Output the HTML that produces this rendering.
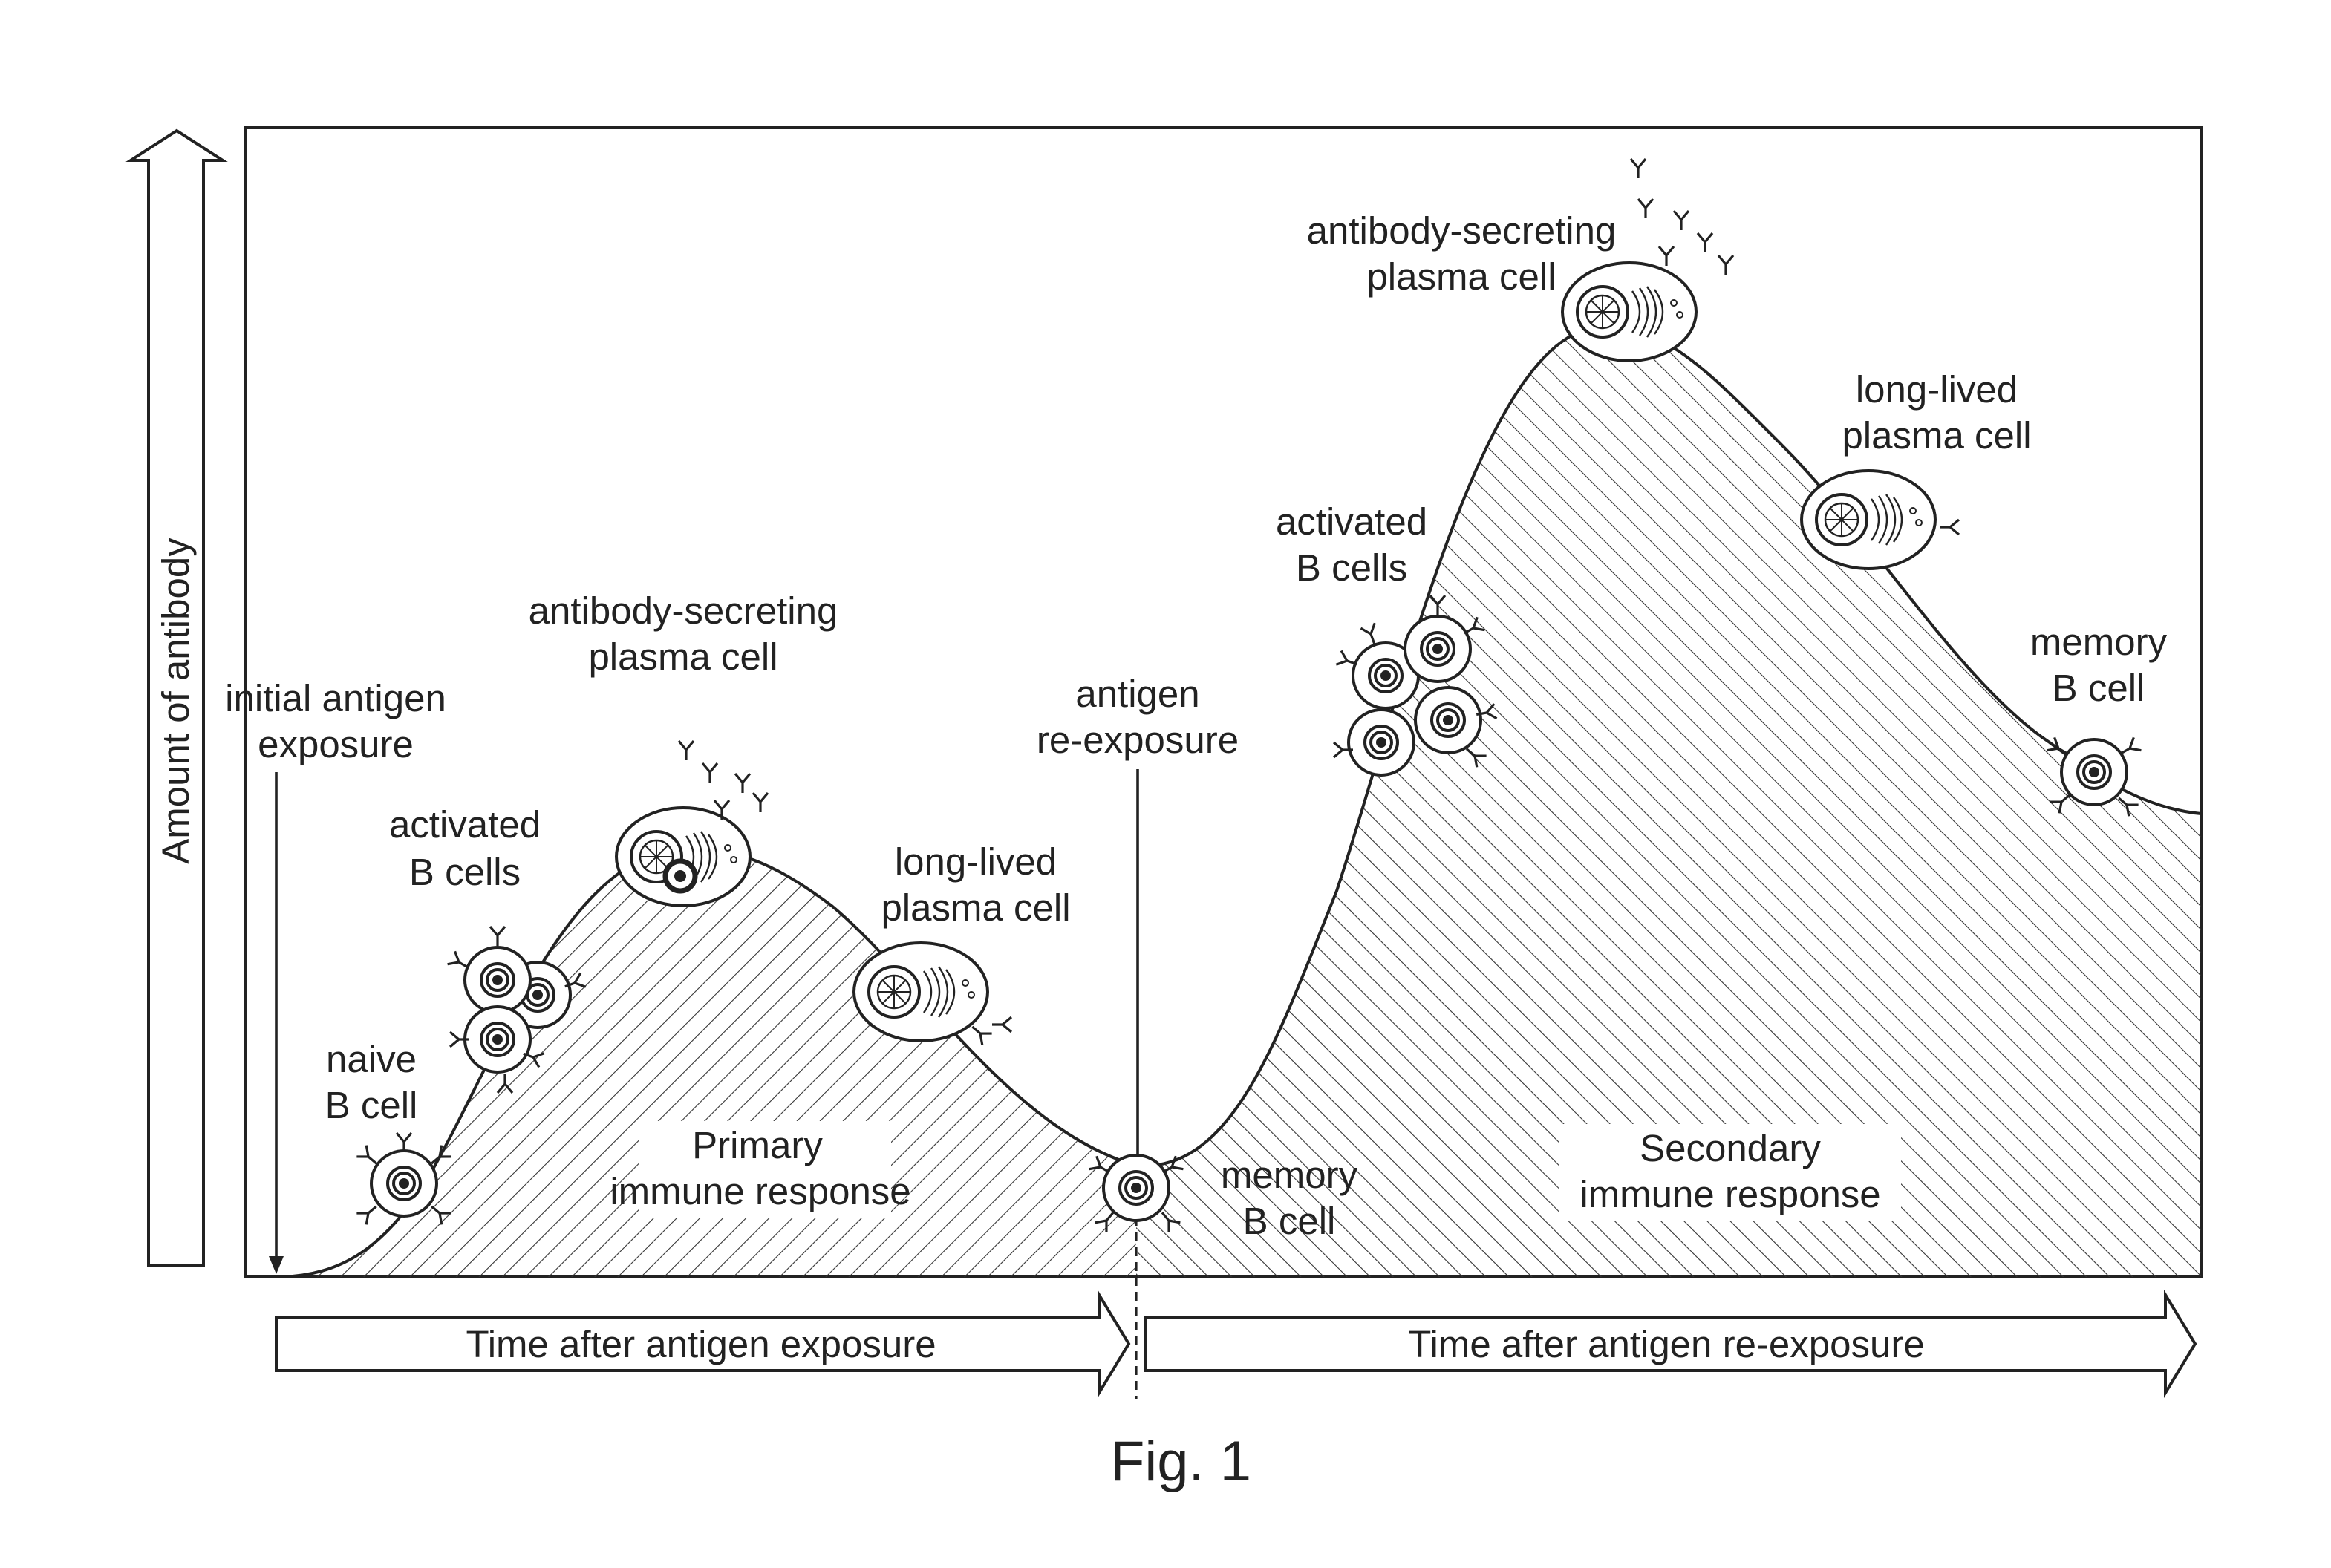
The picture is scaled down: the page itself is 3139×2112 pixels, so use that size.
<!DOCTYPE html>
<html><head><meta charset="utf-8"><style>
html,body{margin:0;padding:0;background:#fff}
svg{display:block}
text{font-family:"Liberation Sans",Arial,sans-serif;font-size:25.5px;fill:#222}
</style></head><body>
<svg width="3139" height="2112" viewBox="0 0 1569.5 1056" xmlns="http://www.w3.org/2000/svg">
<defs>
<pattern id="hl" patternUnits="userSpaceOnUse" width="11" height="11" patternTransform="rotate(45)">
<line x1="0" y1="0" x2="0" y2="11" stroke="#333" stroke-width="1.1"/></pattern>
<pattern id="hr" patternUnits="userSpaceOnUse" width="11" height="11" patternTransform="rotate(-45)">
<line x1="0" y1="0" x2="0" y2="11" stroke="#333" stroke-width="1.1"/></pattern>
<clipPath id="cl"><rect x="165" y="86" width="600" height="774"/></clipPath>
<clipPath id="cr"><rect x="765" y="86" width="717" height="774"/></clipPath>
<g id="ab"><path d="M0,0 L0,7 M0,0 L-5,-6 M0,0 L5,-6" stroke="#222" stroke-width="1.6" fill="none"/></g>
<g id="bc">
<circle r="22" fill="#fff" stroke="#222" stroke-width="2"/>
<circle r="11" fill="none" stroke="#222" stroke-width="2"/>
<circle r="7" fill="none" stroke="#222" stroke-width="2"/>
<circle r="3.5" fill="#222"/>
</g>
<g id="pc">
<ellipse rx="45" ry="33" fill="#fff" stroke="#222" stroke-width="2"/>
<circle cx="-18" r="17" fill="#fff" stroke="#222" stroke-width="2"/>
<circle cx="-18" r="11" fill="none" stroke="#222" stroke-width="1.2"/>
<path d="M-18,-11 L-18,11 M-29,0 L-7,0 M-26,-8 L-10,8 M-26,8 L-10,-8" stroke="#222" stroke-width="1"/>
<path d="M2,-14 Q12,0 2,14 M7,-16 Q18,0 7,16 M12,-17 Q24,0 12,17 M17,-15 Q28,0 17,15" stroke="#222" stroke-width="1.2" fill="none"/>
<circle cx="30" cy="-6" r="2" fill="none" stroke="#222"/><circle cx="34" cy="2" r="2" fill="none" stroke="#222"/>
</g>
</defs>

<rect x="165" y="86" width="1317" height="774" fill="#fff" stroke="#222" stroke-width="2"/>

<path d="M185,860 C230,860 260,840 290,790 C330,720 370,610 430,580 C480,560 520,580 560,610 C620,660 680,760 765,785 C830,790 860,700 900,600 C940,480 990,260 1060,225 C1110,205 1150,250 1200,300 C1260,360 1320,460 1380,500 C1420,530 1450,545 1482,548 L1482,860 Z" fill="url(#hl)" clip-path="url(#cl)"/>
<path d="M185,860 C230,860 260,840 290,790 C330,720 370,610 430,580 C480,560 520,580 560,610 C620,660 680,760 765,785 C830,790 860,700 900,600 C940,480 990,260 1060,225 C1110,205 1150,250 1200,300 C1260,360 1320,460 1380,500 C1420,530 1450,545 1482,548 L1482,860 Z" fill="url(#hr)" clip-path="url(#cr)"/>
<path d="M185,860 C230,860 260,840 290,790 C330,720 370,610 430,580 C480,560 520,580 560,610 C620,660 680,760 765,785 C830,790 860,700 900,600 C940,480 990,260 1060,225 C1110,205 1150,250 1200,300 C1260,360 1320,460 1380,500 C1420,530 1450,545 1482,548" fill="none" stroke="#222" stroke-width="2"/>

<rect x="430" y="755" width="170" height="65" fill="#fff"/>
<rect x="1050" y="757" width="230" height="65" fill="#fff"/>

<path d="M100,852 L100,108 L88,108 L119,88 L150,108 L137,108 L137,852 Z" fill="#fff" stroke="#222" stroke-width="2"/>
<text transform="translate(127,472) rotate(-90)" text-anchor="middle">Amount of antibody</text>

<path d="M186,887 L740,887 L740,872 L760,905 L740,938 L740,923 L186,923 Z" fill="#fff" stroke="#222" stroke-width="2"/>
<text x="472" y="914" text-anchor="middle">Time after antigen exposure</text>
<path d="M771,887 L1458,887 L1458,872 L1478,905 L1458,938 L1458,923 L771,923 Z" fill="#fff" stroke="#222" stroke-width="2"/>
<text x="1122" y="914" text-anchor="middle">Time after antigen re-exposure</text>
<line x1="765" y1="800" x2="765" y2="942" stroke="#222" stroke-width="1.6" stroke-dasharray="6,4"/>
<text x="795" y="997" text-anchor="middle" style="font-size:38px">Fig. 1</text>

<line x1="186" y1="520" x2="186" y2="850" stroke="#222" stroke-width="1.8"/>
<path d="M181,846 L186,858 L191,846 Z" fill="#222"/>
<line x1="766" y1="518" x2="766" y2="782" stroke="#222" stroke-width="1.8"/>
<path d="M761,778 L766,790 L771,778 Z" fill="#222"/>

<g transform="translate(272,797)"><use href="#bc"/>
<use href="#ab" transform="translate(-24,-18) rotate(-50)"/><use href="#ab" transform="translate(24,-18) rotate(50)"/>
<use href="#ab" transform="translate(-24,20) rotate(-130)"/><use href="#ab" transform="translate(24,20) rotate(130)"/>
<use href="#ab" transform="translate(0,-28)"/></g>

<g transform="translate(362,670)"><use href="#bc"/><use href="#ab" transform="translate(25,-8) rotate(70)"/></g>
<g transform="translate(335,660)"><use href="#bc"/><use href="#ab" transform="translate(-26,-12) rotate(-60)"/><use href="#ab" transform="translate(0,-30)"/></g>
<g transform="translate(335,700)"><use href="#bc"/><use href="#ab" transform="translate(-26,0) rotate(-90)"/><use href="#ab" transform="translate(24,12) rotate(110)"/><use href="#ab" transform="translate(5,30) rotate(180)"/></g>

<g transform="translate(460,577)"><use href="#pc"/></g>
<circle cx="458" cy="590" r="10" fill="#fff" stroke="#222" stroke-width="3.5"/>
<circle cx="458" cy="590" r="4" fill="#222"/>
<use href="#ab" transform="translate(462,505)"/><use href="#ab" transform="translate(478,520)"/><use href="#ab" transform="translate(500,527)"/><use href="#ab" transform="translate(512,540)"/><use href="#ab" transform="translate(486,545)"/>

<g transform="translate(620,668)"><use href="#pc"/><use href="#ab" transform="translate(40,28) rotate(130)"/><use href="#ab" transform="translate(55,22) rotate(90)"/></g>

<g transform="translate(765,800)"><use href="#bc"/>
<use href="#ab" transform="translate(-24,-14) rotate(-60)"/><use href="#ab" transform="translate(24,-14) rotate(60)"/>
<use href="#ab" transform="translate(-20,22) rotate(-140)"/><use href="#ab" transform="translate(22,22) rotate(140)"/></g>

<g transform="translate(930,500)"><use href="#bc"/><use href="#ab" transform="translate(-26,5) rotate(-90)"/></g>
<g transform="translate(975,485)"><use href="#bc"/><use href="#ab" transform="translate(26,-5) rotate(80)"/><use href="#ab" transform="translate(18,24) rotate(130)"/></g>
<g transform="translate(933,455)"><use href="#bc"/><use href="#ab" transform="translate(-26,-10) rotate(-70)"/><use href="#ab" transform="translate(-10,-28) rotate(-20)"/></g>
<g transform="translate(968,437)"><use href="#bc"/><use href="#ab" transform="translate(24,-14) rotate(60)"/><use href="#ab" transform="translate(0,-30)"/></g>

<g transform="translate(1097,210)"><use href="#pc"/></g>
<use href="#ab" transform="translate(1103,113)"/><use href="#ab" transform="translate(1108,140)"/><use href="#ab" transform="translate(1132,148)"/><use href="#ab" transform="translate(1148,163)"/><use href="#ab" transform="translate(1122,172)"/><use href="#ab" transform="translate(1162,178)"/>

<g transform="translate(1258,350)"><use href="#pc"/><use href="#ab" transform="translate(55,5) rotate(90)"/></g>

<g transform="translate(1410,520)"><use href="#bc"/>
<use href="#ab" transform="translate(-24,-16) rotate(-60)"/><use href="#ab" transform="translate(24,-16) rotate(60)"/>
<use href="#ab" transform="translate(-22,20) rotate(-130)"/><use href="#ab" transform="translate(22,22) rotate(130)"/></g>

<g text-anchor="middle">
<text x="226" y="479">initial antigen</text><text x="226" y="510">exposure</text>
<text x="313" y="564">activated</text><text x="313" y="596">B cells</text>
<text x="250" y="722">naive</text><text x="250" y="753">B cell</text>
<text x="460" y="420">antibody-secreting</text><text x="460" y="451">plasma cell</text>
<text x="657" y="589">long-lived</text><text x="657" y="620">plasma cell</text>
<text x="510" y="780">Primary</text><text x="512" y="811">immune response</text>
<text x="766" y="476">antigen</text><text x="766" y="507">re-exposure</text>
<text x="868" y="800">memory</text><text x="868" y="831">B cell</text>
<text x="1165" y="782">Secondary</text><text x="1165" y="813">immune response</text>
<text x="910" y="360">activated</text><text x="910" y="391">B cells</text>
<text x="984" y="164">antibody-secreting</text><text x="984" y="195">plasma cell</text>
<text x="1304" y="271">long-lived</text><text x="1304" y="302">plasma cell</text>
<text x="1413" y="441">memory</text><text x="1413" y="472">B cell</text>
</g>
</svg>
</body></html>
